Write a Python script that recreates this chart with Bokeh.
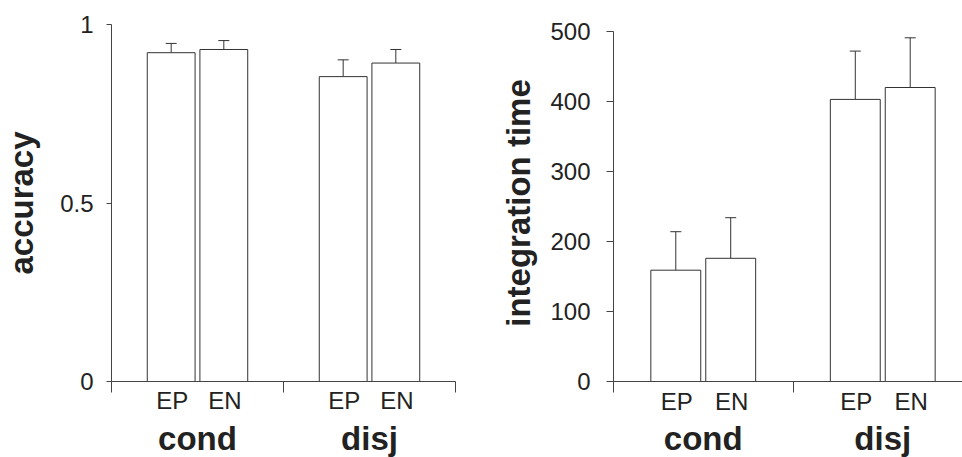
from bokeh.plotting import figure
from bokeh.models import ColumnDataSource, FixedTicker, Range1d, Whisker, TeeHead
from bokeh.layouts import row
from bokeh.embed import file_html
from bokeh.resources import INLINE
from bokeh.core.properties import value

# ---------------- data ----------------
groups = ["cond", "disj"]
conditions = ["EP", "EN"]
# order: cond-EP, cond-EN, disj-EP, disj-EN
accuracy_mean = [0.921, 0.930, 0.854, 0.892]
accuracy_err = [0.026, 0.025, 0.047, 0.038]
time_mean = [159, 176, 403, 420]
time_err = [55, 58, 69, 71]
accuracy_ticks = [0, 0.5, 1]
accuracy_tick_labels = ["0", "0.5", "1"]
time_ticks = [0, 100, 200, 300, 400, 500]
time_tick_labels = ["0", "100", "200", "300", "400", "500"]

# ---------------- style ----------------
FONT = "Liberation Sans"
TXT = "#222222"
AX = "#444444"
BARLINE = "#333333"
BAR_W = 0.278
OFFSET = 0.153

group_centers = [i + 0.5 for i in range(len(groups))]
bar_x = [gc + (2 * j - 1) * OFFSET for gc in group_centers for j in range(len(conditions))]
bar_labels = [c for g in groups for c in conditions]
boundaries = list(range(len(groups) + 1))


def panel(means, errs, yticks, ylabels, ylabel, yend, xend, width, height,
          mb_left, mb_right, mb_top, mb_bottom, ytick_out, ylab_standoff,
          axlab_standoff, sub_offset, group_offset):
    src = ColumnDataSource(dict(x=bar_x, top=means,
                                upper=[m + e for m, e in zip(means, errs)]))
    p = figure(width=width, height=height, x_range=Range1d(0, xend),
               y_range=Range1d(0, yend), output_backend="svg",
               toolbar_location=None, min_border_left=mb_left,
               min_border_right=mb_right, min_border_top=mb_top,
               min_border_bottom=mb_bottom, outline_line_color=None,
               background_fill_color="white", border_fill_color="white")
    p.xgrid.visible = False
    p.ygrid.visible = False

    p.vbar(x="x", top="top", bottom=0, width=BAR_W, source=src,
           fill_color="white", line_color=BARLINE, line_width=1)
    w = Whisker(base="x", lower="top", upper="upper", source=src,
                line_color=BARLINE, line_width=1, lower_head=None,
                upper_head=TeeHead(size=11, line_color=BARLINE, line_width=1))
    p.add_layout(w)

    # x axis: ticks at group boundaries, no tick labels (drawn as text below)
    xa = p.xaxis[0]
    xa.ticker = FixedTicker(ticks=boundaries, minor_ticks=[])
    xa.major_label_overrides = {b: "" for b in boundaries}
    xa.major_tick_in = 0
    xa.major_tick_out = 11
    xa.major_tick_line_color = AX
    xa.minor_tick_line_color = None
    xa.axis_line_color = AX

    ya = p.yaxis[0]
    ya.ticker = FixedTicker(ticks=yticks, minor_ticks=[])
    ya.bounds = (yticks[0], yticks[-1])
    ya.major_label_overrides = {t: l for t, l in zip(yticks, ylabels)}
    ya.major_tick_in = 0
    ya.major_tick_out = ytick_out
    ya.major_tick_line_color = AX
    ya.minor_tick_line_color = None
    ya.axis_line_color = AX
    ya.major_label_standoff = ylab_standoff
    ya.major_label_text_font = FONT
    ya.major_label_text_font_size = "24px"
    ya.major_label_text_color = TXT
    ya.axis_label = ylabel
    ya.axis_label_text_font = FONT
    ya.axis_label_text_font_style = "bold"
    ya.axis_label_text_font_size = "33px"
    ya.axis_label_text_color = TXT
    ya.axis_label_standoff = axlab_standoff

    # condition labels under each bar
    p.text(x=bar_x, y=[0] * len(bar_x), text=bar_labels,
           text_align="center", text_baseline="middle",
           y_offset=sub_offset, x_offset=1, text_font=value(FONT),
           text_font_size="24px", text_color=TXT, level="overlay")
    # group labels
    p.text(x=group_centers, y=[0] * len(groups), text=groups,
           text_align="center", text_baseline="middle",
           y_offset=group_offset, text_font=value(FONT),
           text_font_style="bold", text_font_size="33px",
           text_color=TXT, level="overlay")
    return p


H = 457
TOP = 24
FRAME_H = 357
BOTTOM = H - TOP - FRAME_H
p1 = panel(accuracy_mean, accuracy_err, accuracy_ticks, accuracy_tick_labels,
           "accuracy", 1.0, 2.0, 470, H, 110, 15, TOP, BOTTOM,
           5, 13, 17, 19, 57)
p2 = panel(time_mean, time_err, time_ticks, time_tick_labels,
           "integration time", 510, 349 / 179.5, 492, H, 143, 0, TOP, BOTTOM,
           7, 16, 10, 20, 57)

layout = row(p1, p2)
open("out.html", "w").write(file_html(layout, INLINE))
